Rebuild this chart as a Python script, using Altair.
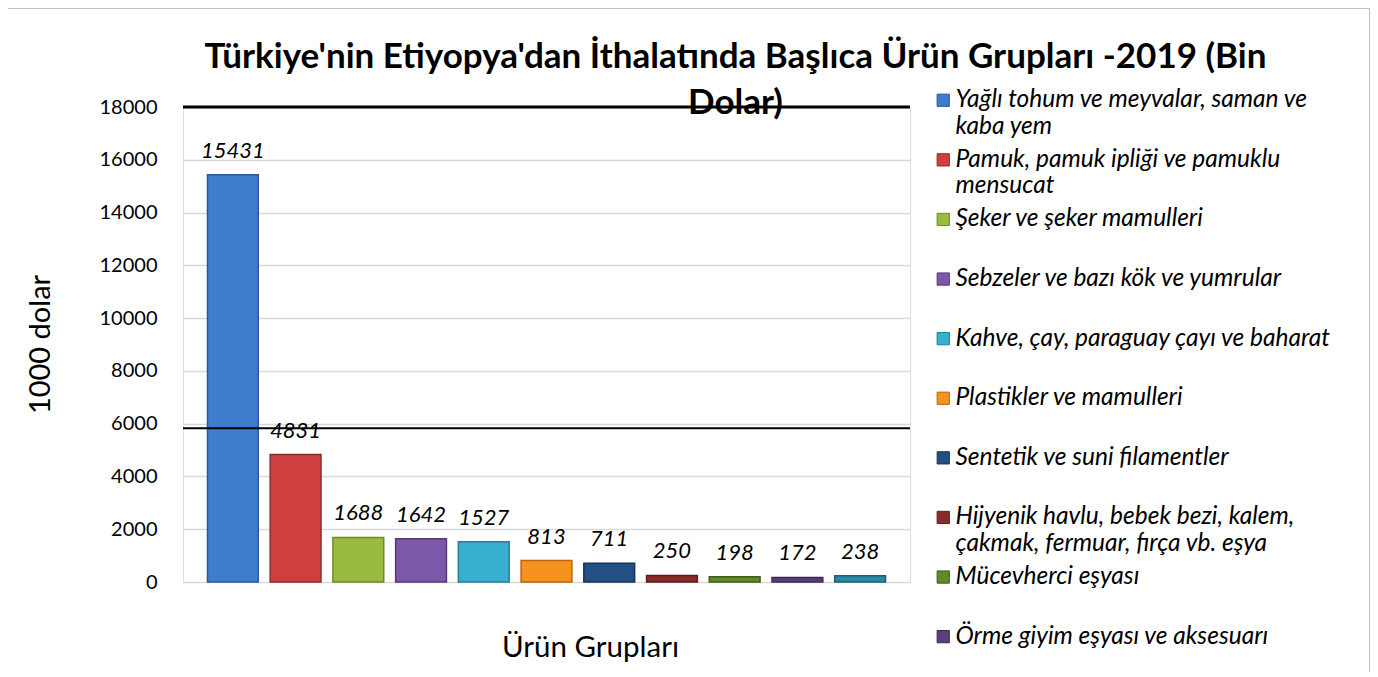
import altair as alt
import pandas as pd

categories = [
    "Yağlı tohum ve meyvalar, saman ve kaba yem",
    "Pamuk, pamuk ipliği ve pamuklu mensucat",
    "Şeker ve şeker mamulleri",
    "Sebzeler ve bazı kök ve yumrular",
    "Kahve, çay, paraguay çayı ve baharat",
    "Plastikler ve mamulleri",
    "Sentetik ve suni filamentler",
    "Hijyenik havlu, bebek bezi, kalem, çakmak, fermuar, fırça vb. eşya",
    "Mücevherci eşyası",
    "Örme giyim eşyası ve aksesuarı",
    "Ham postlar ve deriler",
]
values = [15431, 4831, 1688, 1642, 1527, 813, 711, 250, 198, 172, 238]
colors = ["#3d7dcc", "#cf3f3f", "#9bbb40", "#7e58a8", "#36b0cc", "#f7911f",
          "#244f82", "#8a2b2b", "#5f8a2a", "#5b3f7a", "#2a8aa6"]
strokes = ["#2a5a99", "#8f2a2a", "#6b8a2a", "#553a78", "#217f96", "#b8660f",
           "#163559", "#5e1c1c", "#3f5c1a", "#3d2a52", "#1b5e73"]
legend_lines = {
    categories[0]: ["Yağlı tohum ve meyvalar, saman ve", "kaba yem"],
    categories[1]: ["Pamuk, pamuk ipliği ve pamuklu", "mensucat"],
    categories[7]: ["Hijyenik havlu, bebek bezi, kalem,", "çakmak, fermuar, fırça vb. eşya"],
}
overlay_thick = [18000]
overlay_thin = [5830]

df = pd.DataFrame({"cat": categories, "val": values})

expr = "[datum.label, '']"
for k, v in legend_lines.items():
    expr = f"datum.label == '{k}' ? ['{v[0]}', '{v[1]}'] : " + expr

FONT = "Lato"
xenc = alt.X("cat:N", sort=categories,
             scale=alt.Scale(paddingInner=0.19, paddingOuter=0.39),
             axis=alt.Axis(title="Ürün Grupları", labels=False, ticks=False, domain=False,
                           titleFontSize=29.5, titleFont=FONT, titleFontWeight="normal",
                           titleColor="black", titleX=407, titleY=65,
                           titleAnchor="middle", titleAlign="center", titleBaseline="middle"))
yscale = alt.Scale(domain=[0, 18000], nice=False)

bars = alt.Chart(df).mark_bar(strokeWidth=1.5).encode(
    x=xenc,
    y=alt.Y("val:Q", scale=yscale,
            axis=alt.Axis(title="1000 dolar", values=list(range(0, 18001, 2000)), format="d",
                          ticks=False, domain=False, labelPadding=26,
                          labelFontSize=20, labelFont=FONT, labelColor="black",
                          gridColor="#d9d9d9", gridWidth=1.5,
                          titleFontSize=29, titleFont=FONT, titleFontWeight="normal",
                          titleColor="black", titleX=-143, titleY=237,
                          titleAngle=-90, titleAlign="center", titleBaseline="middle")),
    color=alt.Color("cat:N", sort=categories,
                    scale=alt.Scale(domain=categories, range=colors),
                    legend=alt.Legend(title=None, orient="none", legendX=748, legendY=-19,
                                      values=categories[:10],
                                      symbolType="square", symbolSize=150,
                                      symbolStrokeWidth=1, symbolStrokeColor="#555",
                                      labelFont=FONT, labelFontSize=24.5, labelFontStyle="italic",
                                      labelColor="black", labelLimit=600, labelOffset=0,
                                      labelExpr=expr, rowPadding=7.6, padding=0)),
    stroke=alt.Stroke("cat:N", scale=alt.Scale(domain=categories, range=strokes), legend=None),
)

labels = alt.Chart(df).mark_text(fontSize=22, font=FONT, fontStyle="italic",
                                 baseline="alphabetic", dy=-17, color="black").encode(
    x=alt.X("cat:N", sort=categories),
    y=alt.Y("val:Q", scale=yscale),
    text=alt.Text("val:Q", format="d"),
)

rule1 = alt.Chart(pd.DataFrame({"y": overlay_thick})).mark_rule(color="black", strokeWidth=3).encode(
    y=alt.Y("y:Q", scale=yscale))
rule2 = alt.Chart(pd.DataFrame({"y": overlay_thin})).mark_rule(color="black", strokeWidth=2).encode(
    y=alt.Y("y:Q", scale=yscale))

frame = alt.Chart(pd.DataFrame({"a": [0]})).mark_rect(fill=None, stroke="#bfbfbf", strokeWidth=2).encode(
    x=alt.value(-177), x2=alt.value(1187), y=alt.value(-99), y2=alt.value(620))

chart = alt.layer(frame, bars, rule1, rule2, labels).properties(
    width=727, height=475,
    padding={"left": 175, "top": 99, "right": 460, "bottom": 90},
    autosize=alt.AutoSizeParams(type="none"),
    title=alt.TitleParams(
        text=["Türkiye'nin Etiyopya'dan İthalatında Başlıca Ürün Grupları -2019 (Bin", "Dolar)"],
        font=FONT, fontSize=35, fontWeight="bold", color="black",
        anchor="middle", frame="group", dx=189, dy=102, lineHeight=46, offset=-12,
    ),
).configure_view(stroke=None).configure(background="white")

chart.save("out.html", embed_options={"renderer": "svg", "actions": False})
